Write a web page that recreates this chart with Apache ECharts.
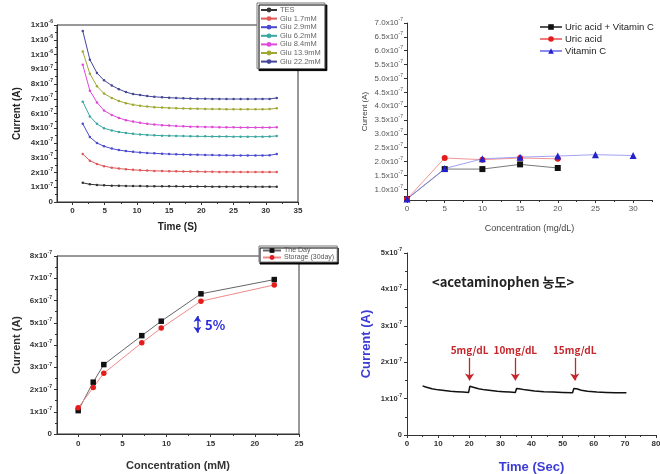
<!DOCTYPE html>
<html>
<head>
<meta charset="utf-8">
<script src="https://cdn.jsdelivr.net/npm/echarts@6/dist/echarts.min.js"></script>
<style>
  html, body { margin: 0; padding: 0; background: #fff; }
  #main { width: 660px; height: 474px; }
</style>
</head>
<body>
<div id="main"></div>
<script>
// all currents are in units of 1e-7 A

// top left: current vs time for each glucose level
const timeS = [1.6, 2.7, 3.8, 4.9, 6.1, 7.2, 8.3, 9.4, 10.5, 11.6, 12.7, 13.9, 15.0, 16.1, 17.2, 18.3, 19.4, 20.6, 21.7, 22.8, 23.9, 25.0, 26.1, 27.2, 28.4, 29.5, 30.6, 31.7];
const curTES = [1.3, 1.2, 1.16, 1.13, 1.11, 1.1, 1.09, 1.08, 1.08, 1.07, 1.07, 1.06, 1.06, 1.06, 1.05, 1.05, 1.05, 1.05, 1.04, 1.04, 1.04, 1.04, 1.04, 1.04, 1.03, 1.03, 1.03, 1.03];
const curGlu17 = [3.25, 2.8, 2.58, 2.43, 2.33, 2.27, 2.22, 2.18, 2.15, 2.13, 2.11, 2.1, 2.09, 2.08, 2.07, 2.06, 2.06, 2.05, 2.05, 2.04, 2.04, 2.04, 2.03, 2.03, 2.03, 2.03, 2.03, 2.03];
const curGlu29 = [5.3, 4.4, 4.0, 3.78, 3.62, 3.52, 3.45, 3.4, 3.36, 3.32, 3.3, 3.27, 3.25, 3.23, 3.22, 3.21, 3.2, 3.19, 3.18, 3.17, 3.17, 3.16, 3.16, 3.16, 3.16, 3.16, 3.17, 3.25];
const curGlu62 = [6.8, 5.8, 5.3, 5.0, 4.85, 4.75, 4.68, 4.62, 4.58, 4.55, 4.52, 4.5, 4.49, 4.48, 4.47, 4.46, 4.45, 4.45, 4.44, 4.44, 4.44, 4.43, 4.43, 4.43, 4.43, 4.43, 4.44, 4.48];
const curGlu84 = [9.3, 7.55, 6.75, 6.2, 5.9, 5.7, 5.55, 5.45, 5.37, 5.3, 5.25, 5.21, 5.18, 5.15, 5.13, 5.11, 5.1, 5.09, 5.08, 5.07, 5.06, 5.06, 5.05, 5.05, 5.05, 5.05, 5.05, 5.07];
const curGlu139 = [10.2, 8.7, 7.85, 7.35, 7.05, 6.85, 6.7, 6.6, 6.52, 6.47, 6.43, 6.4, 6.38, 6.36, 6.34, 6.33, 6.32, 6.31, 6.3, 6.3, 6.29, 6.29, 6.29, 6.29, 6.29, 6.29, 6.3, 6.35];
const curGlu222 = [11.6, 9.65, 8.75, 8.25, 7.9, 7.65, 7.45, 7.32, 7.25, 7.18, 7.13, 7.1, 7.07, 7.05, 7.03, 7.02, 7.0, 7.0, 6.99, 6.99, 6.98, 6.98, 6.98, 6.98, 6.98, 6.99, 6.99, 7.05];
const gluNames = ['TES', 'Glu 1.7mM', 'Glu 2.9mM', 'Glu 6.2mM', 'Glu 8.4mM', 'Glu 13.9mM', 'Glu 22.2mM'];

// top right: interference test
const concUricVitC = [0, 5, 10, 15, 20];
const curUricVitC = [0.65, 1.73, 1.73, 1.9, 1.77];
const concUric = [0, 5, 10, 15, 20];
const curUric = [0.65, 2.13, 2.07, 2.13, 2.1];
const concVitC = [0, 5, 10, 15, 20, 25, 30];
const curVitC = [0.65, 1.75, 2.1, 2.16, 2.2, 2.25, 2.22];

// bottom left: stability
const concMM = [0, 1.7, 2.9, 7.2, 9.4, 13.9, 22.2];
const curDay = [1.05, 2.33, 3.12, 4.42, 5.07, 6.3, 6.94];
const curStorage = [1.18, 2.09, 2.73, 4.1, 4.76, 5.97, 6.7];

// bottom right: acetaminophen additions
const timeSec = [5, 6, 8, 10, 12, 14, 16, 18, 19.8, 20.2, 21, 23, 25, 27, 29, 31, 33, 34.8, 35.2, 36, 38, 41, 44, 47, 50, 53.2, 53.6, 54.5, 56, 58, 61, 64, 67, 70.5];
const curAcet = [1.35, 1.32, 1.27, 1.24, 1.22, 1.2, 1.19, 1.18, 1.17, 1.34, 1.32, 1.27, 1.24, 1.22, 1.2, 1.19, 1.18, 1.17, 1.28, 1.27, 1.24, 1.21, 1.19, 1.18, 1.17, 1.16, 1.28, 1.27, 1.23, 1.2, 1.18, 1.17, 1.16, 1.16];
const doseLabels = ['5mg/dL', '10mg/dL', '15mg/dL'];
const doseTimes = [20.1, 34.8, 53.9];

// tick values
const tlTicksX = [0, 5, 10, 15, 20, 25, 30, 35];
const tlMinorX = [2.5, 7.5, 12.5, 17.5, 22.5, 27.5, 32.5];
const trTicksX = [0, 5, 10, 15, 20, 25, 30];
const trMinorX = [2.5, 7.5, 12.5, 17.5, 22.5, 27.5, 32.5];
const trTicksY = [1.0, 1.5, 2.0, 2.5, 3.0, 3.5, 4.0, 4.5, 5.0, 5.5, 6.0, 6.5, 7.0];
const blTicksX = [0, 5, 10, 15, 20, 25];
const blMinorX = [2.5, 7.5, 12.5, 17.5, 22.5];

const chart = echarts.init(document.getElementById('main'));

const FONT = '"Liberation Sans", Arial, sans-serif';
const KFONT = '"Noto Sans CJK KR", "Noto Sans", sans-serif';
const axisLine = { show: true, onZero: false, lineStyle: { color: '#333', width: 1 } };

// "n x10^-e" style labels, exponent lifted with bottom padding
const supRich = (size, weight, color) => ({
  a: { fontSize: size, fontWeight: weight, color: color, fontFamily: FONT },
  s: { fontSize: 5, fontWeight: weight, color: color, fontFamily: FONT, padding: [0, 0, 6, 0] }
});
const intSci = (v) => {
  if (v === 0) return '{a|0}';
  if (v >= 10) return '{a|' + Math.round(v / 10) + 'x10}{s|-6}';
  return '{a|' + Math.round(v) + 'x10}{s|-7}';
};

const xy = (xs, ys) => xs.map((x, i) => [x, ys[i]]);

const gluColors = ['#333333', '#e05858', '#4a4ad0', '#3aa8a0', '#e048d8', '#a0a832', '#46469a'];
const gluData = [curTES, curGlu17, curGlu29, curGlu62, curGlu84, curGlu139, curGlu222];

const option = {
  animation: false,
  backgroundColor: '#fff',
  textStyle: { fontFamily: FONT },
  grid: [
    { left: 57, top: 25, width: 241, height: 177, show: true, borderColor: '#333', borderWidth: 1, outerBoundsMode: 'none' },
    { left: 407, top: 23, width: 245, height: 177, outerBoundsMode: 'none' },
    { left: 57, top: 256, width: 242, height: 178, show: true, borderColor: '#333', borderWidth: 1, outerBoundsMode: 'none' },
    { left: 407, top: 253, width: 249, height: 182, outerBoundsMode: 'none' }
  ],
  xAxis: [
    { // 0 top left
      gridIndex: 0, type: 'value', min: -2.4, max: 35, position: 'bottom',
      axisLine: axisLine, splitLine: { show: false },
      axisTick: { customValues: tlTicksX, length: 3, lineStyle: { color: '#333' } },
      axisLabel: { customValues: tlTicksX, fontSize: 8, fontWeight: 'bold', color: '#333', margin: 5 },
      name: 'Time (S)', nameLocation: 'middle', nameGap: 20,
      nameTextStyle: { fontSize: 10, fontWeight: 'bold', color: '#222' }
    },
    { // 1 top left minor
      gridIndex: 0, type: 'value', min: -2.4, max: 35, position: 'bottom',
      axisLine: { show: false }, splitLine: { show: false }, axisLabel: { show: false },
      axisTick: { customValues: tlMinorX, length: 2, lineStyle: { color: '#333' } }
    },
    { // 2 top right
      gridIndex: 1, type: 'value', min: 0, max: 32.5, position: 'bottom',
      axisLine: axisLine, splitLine: { show: false },
      axisTick: { customValues: trTicksX, length: 3, lineStyle: { color: '#333' } },
      axisLabel: { customValues: trTicksX, fontSize: 8, color: '#555', margin: 5 },
      name: 'Concentration (mg/dL)', nameLocation: 'middle', nameGap: 24,
      nameTextStyle: { fontSize: 9, color: '#444' }
    },
    { // 3 top right minor
      gridIndex: 1, type: 'value', min: 0, max: 32.5, position: 'bottom',
      axisLine: { show: false }, splitLine: { show: false }, axisLabel: { show: false },
      axisTick: { customValues: trMinorX, length: 2, lineStyle: { color: '#333' } }
    },
    { // 4 bottom left
      gridIndex: 2, type: 'value', min: -2.4, max: 25, position: 'bottom',
      axisLine: axisLine, splitLine: { show: false },
      axisTick: { customValues: blTicksX, length: 3, lineStyle: { color: '#333' } },
      axisLabel: { customValues: blTicksX, fontSize: 8, fontWeight: 'bold', color: '#333', margin: 6 },
      name: 'Concentration (mM)', nameLocation: 'middle', nameGap: 26,
      nameTextStyle: { fontSize: 11, fontWeight: 'bold', color: '#333' }
    },
    { // 5 bottom left minor
      gridIndex: 2, type: 'value', min: -2.4, max: 25, position: 'bottom',
      axisLine: { show: false }, splitLine: { show: false }, axisLabel: { show: false },
      axisTick: { customValues: blMinorX, length: 2, lineStyle: { color: '#333' } }
    },
    { // 6 bottom right
      gridIndex: 3, type: 'value', min: 0, max: 80, interval: 10, position: 'bottom',
      axisLine: axisLine, splitLine: { show: false },
      axisTick: { length: 3, lineStyle: { color: '#333' } },
      minorTick: { show: true, splitNumber: 2, length: 2, lineStyle: { color: '#333' } },
      axisLabel: { fontSize: 8, fontWeight: 'bold', color: '#333', margin: 5 },
      name: 'Time (Sec)', nameLocation: 'middle', nameGap: 26,
      nameTextStyle: { fontSize: 13, fontWeight: 'bold', color: '#3b3bd6' }
    }
  ],
  yAxis: [
    { // top left
      gridIndex: 0, type: 'value', min: 0, max: 12, interval: 1,
      axisLine: axisLine, splitLine: { show: false },
      axisTick: { length: 3, lineStyle: { color: '#333' } },
      minorTick: { show: true, splitNumber: 2, length: 2, lineStyle: { color: '#333' } },
      axisLabel: { formatter: intSci, rich: supRich(8, 'bold', '#333'), margin: 4 },
      name: 'Current (A)', nameLocation: 'middle', nameGap: 35,
      nameTextStyle: { fontSize: 10, fontWeight: 'bold', color: '#222' }
    },
    { // top right
      gridIndex: 1, type: 'value', min: 0.615, max: 7.0,
      axisLine: axisLine, splitLine: { show: false },
      axisTick: { customValues: trTicksY, length: 3, lineStyle: { color: '#333' } },
      axisLabel: {
        customValues: trTicksY, margin: 4,
        formatter: (v) => '{a|' + v.toFixed(1) + 'x10}{s|-7}',
        rich: supRich(8, 'normal', '#555')
      },
      name: 'Current (A)', nameLocation: 'middle', nameGap: 38,
      nameTextStyle: { fontSize: 8, color: '#444' }
    },
    { // bottom left
      gridIndex: 2, type: 'value', min: 0, max: 8, interval: 1,
      axisLine: axisLine, splitLine: { show: false },
      axisTick: { length: 3, lineStyle: { color: '#333' } },
      minorTick: { show: true, splitNumber: 2, length: 2, lineStyle: { color: '#333' } },
      axisLabel: { formatter: intSci, rich: supRich(8, 'bold', '#333'), margin: 5 },
      name: 'Current (A)', nameLocation: 'middle', nameGap: 35,
      nameTextStyle: { fontSize: 11, fontWeight: 'bold', color: '#333' }
    },
    { // bottom right
      gridIndex: 3, type: 'value', min: 0, max: 5, interval: 1,
      axisLine: axisLine, splitLine: { show: false },
      axisTick: { length: 3, lineStyle: { color: '#333' } },
      minorTick: { show: true, splitNumber: 2, length: 2, lineStyle: { color: '#333' } },
      axisLabel: { formatter: intSci, rich: supRich(7.5, 'bold', '#333'), margin: 5 },
      name: 'Current (A)', nameLocation: 'middle', nameGap: 34,
      nameTextStyle: { fontSize: 13, fontWeight: 'bold', color: '#3b3bd6' }
    }
  ],
  legend: [
    {
      data: gluNames, orient: 'vertical', left: 257, top: 3, selectedMode: false,
      backgroundColor: '#fff', borderColor: '#777', borderWidth: 1,
      shadowColor: '#000', shadowBlur: 0, shadowOffsetX: 2, shadowOffsetY: 2,
      padding: [3, 4, 3, 3], itemGap: 0.6, itemWidth: 16, itemHeight: 6,
      textStyle: { fontSize: 7.5, color: '#666', padding: [0, 0, 0, -2] }
    },
    {
      data: ['Uric acid + Vitamin C', 'Uric acid', 'Vitamin C'], orient: 'vertical', left: 534, top: 17,
      selectedMode: false, itemGap: 2, itemWidth: 22, itemHeight: 7,
      textStyle: { fontSize: 9.5, color: '#222', padding: [0, 0, 0, -2] }
    },
    {
      data: ['The Day', 'Storage (30day)'], orient: 'vertical', left: 259, top: 246, selectedMode: false,
      backgroundColor: '#fff', borderColor: '#777', borderWidth: 1,
      shadowColor: '#000', shadowBlur: 0, shadowOffsetX: 1, shadowOffsetY: 2,
      padding: [1, 3, 1, 3], itemGap: 0, itemWidth: 18, itemHeight: 6,
      textStyle: { fontSize: 7, color: '#555', padding: [0, 0, 0, -2] }
    }
  ],
  series: [
    ...gluNames.map((name, k) => ({
      name: name, type: 'line', xAxisIndex: 0, yAxisIndex: 0,
      data: xy(timeS, gluData[k]),
      symbol: 'circle', symbolSize: 2.5, showSymbol: true,
      lineStyle: { width: 1, color: gluColors[k] },
      itemStyle: { color: gluColors[k] }
    })),
    {
      name: 'Uric acid + Vitamin C', type: 'line', xAxisIndex: 2, yAxisIndex: 1,
      data: xy(concUricVitC, curUricVitC),
      symbol: 'rect', symbolSize: 6,
      lineStyle: { width: 0.8, color: '#555' }, itemStyle: { color: '#111' }
    },
    {
      name: 'Uric acid', type: 'line', xAxisIndex: 2, yAxisIndex: 1,
      data: xy(concUric, curUric),
      symbol: 'circle', symbolSize: 6,
      lineStyle: { width: 0.8, color: '#f07a7a' }, itemStyle: { color: '#e51c1c' }
    },
    {
      name: 'Vitamin C', type: 'line', xAxisIndex: 2, yAxisIndex: 1,
      data: xy(concVitC, curVitC),
      symbol: 'triangle', symbolSize: 7,
      lineStyle: { width: 0.8, color: '#8a8af0' }, itemStyle: { color: '#2222cc' }
    },
    {
      name: 'The Day', type: 'line', xAxisIndex: 4, yAxisIndex: 2,
      data: xy(concMM, curDay),
      symbol: 'rect', symbolSize: 5.5,
      lineStyle: { width: 1, color: '#666' }, itemStyle: { color: '#111' },
      markLine: {
        silent: true, symbol: ['arrow', 'arrow'], symbolSize: 6,
        lineStyle: { color: '#2a2ad8', width: 1.5, type: 'solid' },
        label: { show: false },
        data: [[{ coord: [13.5, 5.3] }, { coord: [13.5, 4.55] }]]
      }
    },
    {
      name: 'Storage (30day)', type: 'line', xAxisIndex: 4, yAxisIndex: 2,
      data: xy(concMM, curStorage),
      symbol: 'circle', symbolSize: 5.5,
      lineStyle: { width: 1, color: '#ee8a8a' }, itemStyle: { color: '#e51c1c' }
    },
    {
      name: 'acetaminophen', type: 'line', xAxisIndex: 6, yAxisIndex: 3,
      data: xy(timeSec, curAcet),
      showSymbol: false, symbol: 'none',
      lineStyle: { width: 1.5, color: '#111' },
      markLine: {
        silent: true, symbol: ['none', 'arrow'], symbolSize: 7,
        lineStyle: { color: '#c4262c', width: 1.3, type: 'solid' },
        label: {
          show: true, position: 'start', distance: 3, formatter: '{b}',
          color: '#c4262c', fontSize: 10, fontWeight: 'bold', fontFamily: KFONT
        },
        data: doseTimes.map((t, i) => [
          { coord: [t, 2.12], name: doseLabels[i] },
          { coord: [t, 1.5] }
        ])
      }
    }
  ],
  graphic: [
    {
      type: 'text', left: 432, top: 276,
      style: { text: '<acetaminophen 농도>', fontSize: 13, fontWeight: 'bold', fontFamily: KFONT, fill: '#222' }
    },
    {
      type: 'text', left: 205, top: 319,
      style: { text: '5%', fontSize: 13, fontWeight: 'bold', fontFamily: KFONT, fill: '#2a2ad8' }
    }
  ]
};

chart.setOption(option);
</script>
</body>
</html>
